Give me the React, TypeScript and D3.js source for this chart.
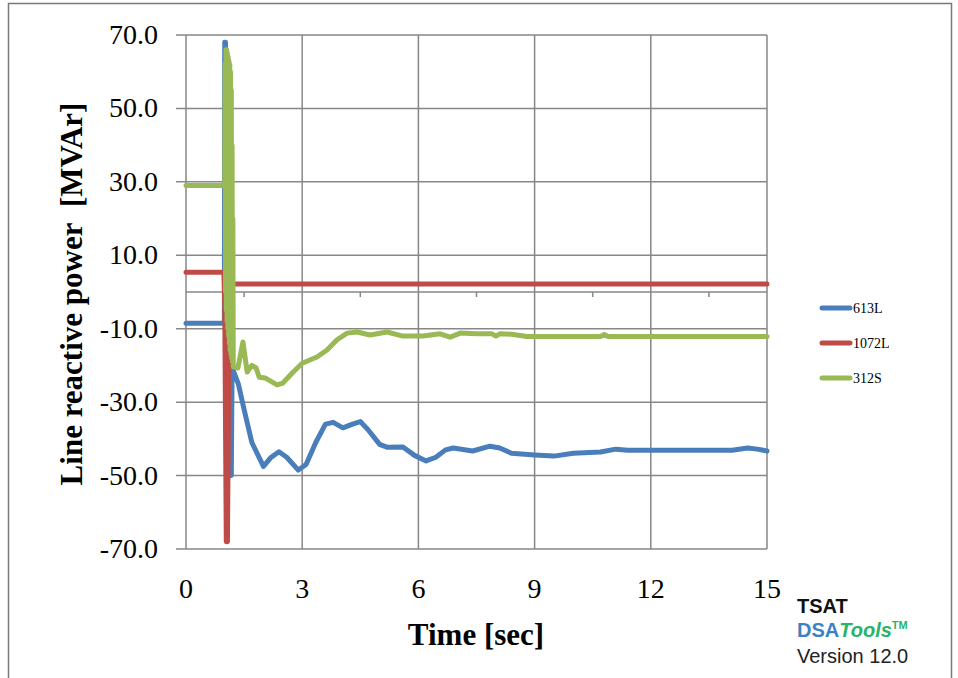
import React from "react";
import * as d3 from "d3";

const timeBlue = [0, 0.99, 1.0, 1.02, 1.05, 1.1, 1.14, 1.17, 1.19, 1.35, 1.5, 1.7, 2.0, 2.2, 2.4, 2.6, 2.9, 3.1, 3.35, 3.6, 3.8, 4.05, 4.3, 4.5, 4.7, 5.0, 5.2, 5.6, 5.9, 6.2, 6.45, 6.7, 6.9, 7.4, 7.85, 8.1, 8.4, 9.0, 9.5, 10.0, 10.7, 11.1, 11.4, 12, 13, 14.1, 14.5, 14.75, 15];
const value613L = [-8.5, -8.5, 68, 68, 30, -10, -50, -50, -20.5, -25, -32, -41, -47.5, -45, -43.5, -45, -48.5, -47, -41, -36, -35.5, -37, -36, -35.3, -37.5, -41.5, -42.3, -42.2, -44.5, -46, -45, -43, -42.5, -43.3, -42, -42.5, -43.9, -44.4, -44.7, -43.9, -43.6, -42.8, -43.1, -43.1, -43.1, -43.1, -42.5, -42.8, -43.3];

const timeRed = [0, 0.98, 1.0, 1.04, 1.07, 1.12, 15];
const value1072L = [5.4, 5.4, -3, -68, -68, 2.2, 2.2];

const timeGreen = [0, 1.0, 1.01, 1.02, 1.03, 1.04, 1.05, 1.06, 1.07, 1.08, 1.09, 1.1, 1.11, 1.12, 1.13, 1.14, 1.15, 1.16, 1.17, 1.18, 1.19, 1.2, 1.21, 1.22, 1.34, 1.47, 1.58, 1.7, 1.81, 1.89, 2.04, 2.35, 2.5, 2.75, 3.0, 3.38, 3.64, 3.9, 4.16, 4.42, 4.75, 5.19, 5.6, 6.12, 6.56, 6.82, 7.08, 7.5, 7.9, 8.0, 8.1, 8.4, 8.8, 10.7, 10.8, 10.9, 15];
const value312S = [29, 29, 62, 0, 66, -5, 66, -8, 65, -10, 64, -12, 63, -14, 62, -16, 60, -17, 55, -18, 40, -19, 20, -20.4, -20.7, -13.6, -21.8, -20, -20.7, -23.2, -23.4, -25.3, -24.8, -22, -19.4, -17.7, -15.8, -13, -11.2, -10.9, -11.7, -10.9, -12, -12, -11.4, -12.3, -11.2, -11.4, -11.4, -12, -11.4, -11.5, -12.1, -12.1, -11.6, -12.1, -12.1];

const seriesNames = ["613L", "1072L", "312S"];
const seriesColors = ["#4a7ebb", "#be4b48", "#98b954"];
const xTicks = [0, 3, 6, 9, 12, 15];
const yTicks = [-70, -50, -30, -10, 10, 30, 50, 70];
const xMinorTicks = [1.5, 4.5, 7.5, 10.5, 13.5];

const W = 958;
const H = 678;
const plot = { left: 186, right: 767, top: 35, bottom: 549 };

export default function App() {
  const x = d3.scaleLinear().domain([0, 15]).range([plot.left, plot.right]);
  const y = d3.scaleLinear().domain([-70, 70]).range([plot.bottom, plot.top]);
  const line = d3
    .line<[number, number]>()
    .x((d) => x(d[0]))
    .y((d) => y(d[1]));

  const series = [
    timeBlue.map((t, i) => [t, value613L[i]] as [number, number]),
    timeRed.map((t, i) => [t, value1072L[i]] as [number, number]),
    timeGreen.map((t, i) => [t, value312S[i]] as [number, number]),
  ];

  const grid = "#878787";
  const serif = "'Liberation Serif', 'Times New Roman', serif";
  const sans = "'Liberation Sans', Arial, sans-serif";

  return (
    <svg
      width={W}
      height={H}
      style={{ position: "absolute", left: 0, top: 0, background: "#fff" }}
    >
      <rect x={0} y={0} width={W} height={H} fill="#fff" />
      <rect x={8.5} y={3.5} width={943} height={720} fill="none" stroke="#7a7a7a" strokeWidth={1.5} />

      {yTicks.map((v) => (
        <line key={"gy" + v} x1={plot.left - 10} x2={plot.right} y1={y(v)} y2={y(v)} stroke={grid} strokeWidth={1.5} />
      ))}
      {xTicks.map((v) => (
        <line key={"gx" + v} x1={x(v)} x2={x(v)} y1={plot.top} y2={plot.bottom} stroke={grid} strokeWidth={1.5} />
      ))}
      <line x1={plot.left} x2={plot.right} y1={y(0)} y2={y(0)} stroke={grid} strokeWidth={1.5} />
      {xMinorTicks.map((v) => (
        <line key={"mt" + v} x1={x(v)} x2={x(v)} y1={y(0)} y2={y(0) + 5} stroke={grid} strokeWidth={1.5} />
      ))}

      {yTicks.map((v) => (
        <text key={"ly" + v} x={158} y={y(v) + 9} textAnchor="end" fontFamily={serif} fontSize={28} fill="#000">
          {v.toFixed(1)}
        </text>
      ))}
      {xTicks.map((v) => (
        <text key={"lx" + v} x={x(v)} y={598} textAnchor="middle" fontFamily={serif} fontSize={28} fill="#000">
          {v}
        </text>
      ))}

      {series.map((s, i) => (
        <path
          key={seriesNames[i]}
          d={line(s) || ""}
          fill="none"
          stroke={seriesColors[i]}
          strokeWidth={5}
          strokeLinejoin="round"
          strokeLinecap="round"
        />
      ))}

      <text x={476} y={645} textAnchor="middle" fontFamily={serif} fontWeight="bold" fontSize={31} fill="#000">
        Time [sec]
      </text>
      <text
        transform={`translate(82,294) rotate(-90)`}
        textAnchor="middle"
        fontFamily={serif}
        fontWeight="bold"
        fontSize={31}
        fill="#000"
        style={{ whiteSpace: "pre" }}
      >
        {"Line reactive power\u00a0 [MVAr]"}
      </text>

      {seriesNames.map((n, i) => (
        <g key={"lg" + n} transform={`translate(0,${308 + i * 35})`}>
          <line x1={822} x2={850} y1={0} y2={0} stroke={seriesColors[i]} strokeWidth={5} strokeLinecap="round" />
          <text x={853} y={5} fontFamily={serif} fontSize={14} fill="#000">
            {n}
          </text>
        </g>
      ))}

      <text x={797} y={613} fontFamily={sans} fontWeight="bold" fontSize={20} fill="#111">
        TSAT
      </text>
      <text x={797} y={637} fontFamily={sans} fontWeight="bold" fontSize={20}>
        <tspan fill="#3b82c4">DSA</tspan>
        <tspan fill="#2ab36b" fontStyle="italic">Tools</tspan>
        <tspan fill="#2ab36b" fontSize={11} dy={-8}>TM</tspan>
      </text>
      <text x={797} y={663} fontFamily={sans} fontSize={20} fill="#222">
        Version 12.0
      </text>
    </svg>
  );
}
